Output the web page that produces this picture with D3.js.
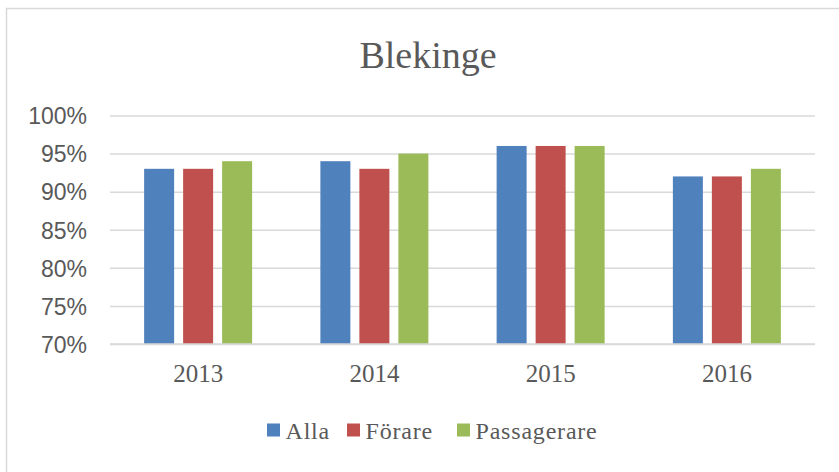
<!DOCTYPE html>
<html><head><meta charset="utf-8">
<script src="https://cdn.jsdelivr.net/npm/d3@7"></script>
<style>body{margin:0;background:#fff}svg{display:block}</style>
</head><body>
<svg id="c" width="839" height="472"></svg>
<script>
const title = "Blekinge";
const categories = ["2013","2014","2015","2016"];
const seriesNames = ["Alla","Förare","Passagerare"];
const alla = [0.93, 0.94, 0.96, 0.92];
const forare = [0.93, 0.93, 0.96, 0.92];
const passagerare = [0.94, 0.95, 0.96, 0.93];
const yTicks = [0.70,0.75,0.80,0.85,0.90,0.95,1.00];
const colors = ["#4f81bd","#c0504d","#9bbb59"];

const seriesValues = [alla, forare, passagerare];
const svg = d3.select("#c");
const grey = "#595959";

// chart border
svg.append("rect").attr("x",6.5).attr("y",8.5).attr("width",900).attr("height",600)
  .attr("fill","none").attr("stroke","#d9d9d9").attr("stroke-width",1.5);

svg.append("text").attr("x",428).attr("y",68).attr("text-anchor","middle")
  .attr("font-family","Liberation Serif").attr("font-size",38).attr("fill",grey).text(title);

const left = 110, right = 815;
const y = d3.scaleLinear().domain([0.70,1.00]).range([344,115.5]);
const x0 = d3.scaleBand().domain(categories).range([left,right]).padding(0);
const gw = 108, bw0 = x0.bandwidth();
const x1 = d3.scaleBand().domain(seriesNames).range([(bw0-gw)/2,(bw0+gw)/2]).paddingInner(9/39).paddingOuter(0);

// gridlines
const yAxis = d3.axisLeft(y).tickValues(yTicks).tickSize(-(right-left)).tickFormat(d3.format(".0%"));
const ga = svg.append("g").attr("transform",`translate(${left},0)`).call(yAxis);
ga.select(".domain").remove();
ga.selectAll(".tick line").attr("stroke","#d9d9d9").attr("stroke-width",1.5);
ga.selectAll(".tick text").attr("x",-23).attr("dy","0.36em")
  .attr("font-family","Liberation Sans").attr("font-size",23).attr("fill",grey);

// bars
const rows = categories.map((c,i)=>({cat:c, vals: seriesNames.map((s,j)=>({s, v: seriesValues[j][i], j}))}));
const g = svg.append("g").selectAll("g").data(rows).join("g")
  .attr("transform",d=>`translate(${x0(d.cat)},0)`);
g.selectAll("rect").data(d=>d.vals).join("rect")
  .attr("x",d=>x1(d.s)).attr("width",x1.bandwidth())
  .attr("y",d=>y(d.v)).attr("height",d=>y(0.70)-y(d.v))
  .attr("fill",d=>colors[d.j]);

// redraw baseline over bars
svg.append("line").attr("x1",left).attr("x2",right).attr("y1",y(0.70)).attr("y2",y(0.70))
  .attr("stroke","#d9d9d9").attr("stroke-width",1.5);

// x labels
const xAxis = d3.axisBottom(x0).tickSize(0);
const gx = svg.append("g").attr("transform",`translate(0,${y(0.70)})`).call(xAxis);
gx.select(".domain").remove();
gx.selectAll(".tick text").attr("y",38).attr("dy",0)
  .attr("font-family","Liberation Serif").attr("font-size",25).attr("fill",grey);

// legend
const legX = [267, 347, 457];
const lg = svg.append("g").selectAll("g").data(seriesNames).join("g")
  .attr("transform",(d,i)=>`translate(${legX[i]},0)`);
lg.append("rect").attr("x",0).attr("y",423.5).attr("width",13).attr("height",13).attr("fill",(d,i)=>colors[i]);
lg.append("text").attr("x",18.5).attr("y",439).text(d=>d)
  .attr("font-family","Liberation Serif").attr("font-size",24).attr("letter-spacing",0.8).attr("fill",grey);
</script>
</body></html>
